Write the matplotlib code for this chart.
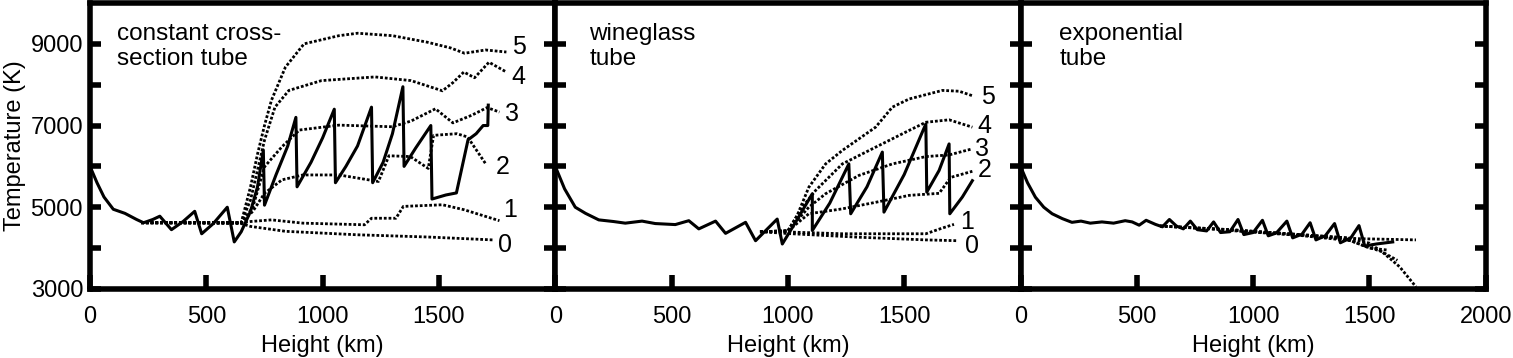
import matplotlib
matplotlib.use("Agg")
import matplotlib.pyplot as plt

plt.rcParams['font.family'] = ['Liberation Sans', 'DejaVu Sans']

# ---- panel 1: constant cross-section tube ----
p1_solid_h = [0, 30, 60, 100, 150, 200, 230, 270, 300, 350, 400, 450, 480, 530, 590, 620, 650,
              690, 720, 745, 750, 800, 850, 885, 890, 950, 1000, 1050, 1055, 1100, 1150, 1210,
              1215, 1260, 1300, 1345, 1350, 1400, 1465, 1470, 1530, 1575, 1600, 1625, 1660,
              1690, 1710, 1712]
p1_solid_T = [6000, 5600, 5250, 4950, 4850, 4700, 4620, 4700, 4780, 4450, 4650, 4900, 4350,
              4600, 5000, 4150, 4400, 4900, 5500, 6400, 5050, 5800, 6500, 7200, 5500, 6100,
              6700, 7400, 5600, 6000, 6500, 7450, 5600, 6100, 6800, 7950, 6000, 6450, 7000,
              5200, 5300, 5350, 6000, 6650, 6800, 7000, 7000, 7500]

p1_c5_h = [220, 650, 690, 720, 750, 780, 840, 920, 1070, 1150, 1300, 1450, 1550, 1610, 1700, 1790]
p1_c5_T = [4620, 4620, 5500, 6300, 7000, 7620, 8430, 9000, 9200, 9260, 9200, 9040, 8900, 8770, 8850, 8800]
p1_c4_h = [220, 650, 690, 750, 795, 855, 995, 1225, 1380, 1515, 1560, 1607, 1653, 1715, 1790]
p1_c4_T = [4620, 4620, 5180, 6640, 7450, 7860, 8100, 8190, 8100, 7850, 8050, 8310, 8170, 8550, 8310]
p1_c3_h = [220, 650, 700, 750, 825, 900, 1070, 1300, 1380, 1485, 1560, 1640, 1707, 1760]
p1_c3_T = [4620, 4620, 5000, 5990, 6480, 6890, 7010, 6970, 7110, 7410, 7065, 7250, 7440, 7330]
p1_c2_h = [220, 650, 700, 750, 825, 915, 1070, 1240, 1285, 1377, 1454, 1477, 1577, 1623, 1700]
p1_c2_T = [4620, 4620, 4900, 5340, 5670, 5790, 5790, 5630, 6260, 6240, 5950, 6760, 6800, 6720, 6070]
p1_c1_h = [220, 650, 690, 780, 915, 1180, 1210, 1315, 1347, 1515, 1607, 1760]
p1_c1_T = [4620, 4620, 4650, 4690, 4610, 4570, 4730, 4730, 5020, 5060, 4940, 4670]
p1_c0_h = [220, 650, 690, 840, 1150, 1455, 1730]
p1_c0_T = [4620, 4600, 4530, 4410, 4325, 4270, 4200]
p1_lab_h = [1845, 1840, 1814, 1776, 1807, 1784]
p1_lab_T = [8920, 8190, 7290, 5990, 4935, 4080]

# ---- panel 2: wineglass tube ----
p2_solid_h = [0, 40, 86, 130, 187, 250, 301, 373, 430, 516, 574, 617, 689, 732, 818, 861, 954,
              976, 1040, 1105, 1105, 1180, 1262, 1270, 1340, 1406, 1413, 1500, 1593, 1597,
              1650, 1693, 1696, 1750, 1793]
p2_solid_T = [6000, 5450, 5000, 4850, 4690, 4650, 4610, 4660, 4600, 4575, 4670, 4470, 4660,
              4360, 4630, 4180, 4710, 4100, 4700, 5330, 4430, 5100, 6060, 4840, 5500, 6350,
              4880, 5800, 7040, 5370, 5900, 6550, 4840, 5250, 5650]

p2_c5_h = [880, 1000, 1040, 1090, 1162, 1234, 1377, 1449, 1521, 1664, 1736, 1793]
p2_c5_T = [4400, 4420, 4800, 5490, 6060, 6390, 6960, 7450, 7650, 7860, 7840, 7730]
p2_c4_h = [880, 1000, 1062, 1119, 1234, 1377, 1521, 1593, 1693, 1793]
p2_c4_T = [4400, 4420, 5000, 5410, 6060, 6470, 6880, 7080, 7140, 6960]
p2_c3_h = [880, 1000, 1090, 1162, 1306, 1449, 1593, 1693, 1793]
p2_c3_T = [4400, 4420, 5000, 5330, 5780, 6060, 6240, 6280, 6430]
p2_c2_h = [880, 1000, 1090, 1234, 1377, 1521, 1650, 1700, 1793]
p2_c2_T = [4400, 4420, 4840, 4960, 5120, 5290, 5340, 5730, 5880]
p2_c1_h = [880, 1019, 1234, 1593, 1664, 1714]
p2_c1_T = [4400, 4390, 4350, 4350, 4490, 4580]
p2_c0_h = [880, 1019, 1306, 1593, 1729]
p2_c0_T = [4400, 4350, 4265, 4200, 4180]
p2_lab_h = [1858, 1844, 1836, 1844, 1772, 1793]
p2_lab_T = [7690, 7000, 6430, 5900, 4630, 4060]

# ---- panel 3: exponential tube ----
p3_solid_h = [0, 30, 64, 100, 136, 180, 221, 260, 300, 350, 400, 450, 480, 510, 540, 580, 610,
              640, 670, 700, 730, 760, 800, 830, 860, 900, 935, 960, 1000, 1040, 1065, 1100,
              1145, 1170, 1210, 1245, 1270, 1310, 1350, 1375, 1420, 1455, 1480, 1530, 1600]
p3_solid_T = [6000, 5600, 5245, 5000, 4840, 4720, 4630, 4660, 4610, 4640, 4610, 4670, 4640,
              4560, 4680, 4580, 4520, 4700, 4540, 4470, 4660, 4450, 4420, 4640, 4380, 4400,
              4700, 4330, 4380, 4680, 4300, 4370, 4660, 4250, 4340, 4620, 4200, 4300, 4600,
              4130, 4250, 4550, 4050, 4100, 4150]

p3_flat_h = [600, 900, 1200, 1450, 1700]
p3_flat_T = [4540, 4450, 4330, 4230, 4200]
p3_fallA_h = [600, 900, 1200, 1400, 1500, 1560, 1630, 1700]
p3_fallA_T = [4540, 4450, 4330, 4250, 4120, 3880, 3540, 3050]
p3_fallB_h = [600, 900, 1200, 1400, 1480, 1550, 1620]
p3_fallB_T = [4540, 4440, 4320, 4220, 4050, 3920, 3700]
p3_fallC_h = [900, 1200, 1420, 1500, 1580]
p3_fallC_T = [4430, 4310, 4180, 4000, 3950]

labels = ['5', '4', '3', '2', '1', '0']
dot = (0, (1.0, 0.7))

fig, ax = plt.subplots(1, 3, figsize=(15.13, 3.58), dpi=100, sharey=True)
fig.subplots_adjust(left=0.0595, right=0.982, bottom=0.193, top=0.9916, wspace=0)

# panel 1
a = ax[0]
for h, T in [(p1_c5_h, p1_c5_T), (p1_c4_h, p1_c4_T), (p1_c3_h, p1_c3_T),
             (p1_c2_h, p1_c2_T), (p1_c1_h, p1_c1_T), (p1_c0_h, p1_c0_T)]:
    a.plot(h, T, color='black', lw=2, linestyle=dot)
a.plot(p1_solid_h, p1_solid_T, color='black', lw=2.2)
for s, h, T in zip(labels, p1_lab_h, p1_lab_T):
    a.text(h, T, s, fontsize=18, ha='center', va='center')
a.text(0.058, 0.93, 'constant cross-\nsection tube', transform=a.transAxes,
       fontsize=17.5, ha='left', va='top')

# panel 2
a = ax[1]
for h, T in [(p2_c5_h, p2_c5_T), (p2_c4_h, p2_c4_T), (p2_c3_h, p2_c3_T),
             (p2_c2_h, p2_c2_T), (p2_c1_h, p2_c1_T), (p2_c0_h, p2_c0_T)]:
    a.plot(h, T, color='black', lw=2, linestyle=dot)
a.plot(p2_solid_h, p2_solid_T, color='black', lw=2.2)
for s, h, T in zip(labels, p2_lab_h, p2_lab_T):
    a.text(h, T, s, fontsize=18, ha='center', va='center')
a.text(0.073, 0.93, 'wineglass\ntube', transform=a.transAxes,
       fontsize=17.5, ha='left', va='top')

# panel 3
a = ax[2]
for h, T in [(p3_flat_h, p3_flat_T), (p3_fallA_h, p3_fallA_T),
             (p3_fallB_h, p3_fallB_T), (p3_fallC_h, p3_fallC_T)]:
    a.plot(h, T, color='black', lw=2, linestyle=dot)
a.plot(p3_solid_h, p3_solid_T, color='black', lw=2.2)
a.text(0.083, 0.93, 'exponential\ntube', transform=a.transAxes,
       fontsize=17.5, ha='left', va='top')

for i, a in enumerate(ax):
    a.set_xlim(0, 2000)
    a.set_ylim(3000, 10000)
    a.set_xticks([0, 500, 1000, 1500, 2000])
    a.set_xticklabels(['0', '500', '1000', '1500', '2000' if i == 2 else ''])
    a.set_yticks(range(3000, 10000, 1000))
    a.set_yticklabels(['3000', '', '5000', '', '7000', '', '9000'])
    a.tick_params(axis='x', direction='in', length=10, width=4, top=False,
                  labelsize=17, pad=12)
    a.tick_params(axis='y', direction='in', length=8, width=4, left=True, right=True,
                  labelsize=17, pad=5, labelleft=(i == 0))
    for sp in a.spines.values():
        sp.set_linewidth(4)
    a.set_xlabel('Height (km)', fontsize=17, labelpad=5)

ax[0].set_ylabel('Temperature (K)', fontsize=17, labelpad=3)

fig.savefig('out.png', dpi=100)
